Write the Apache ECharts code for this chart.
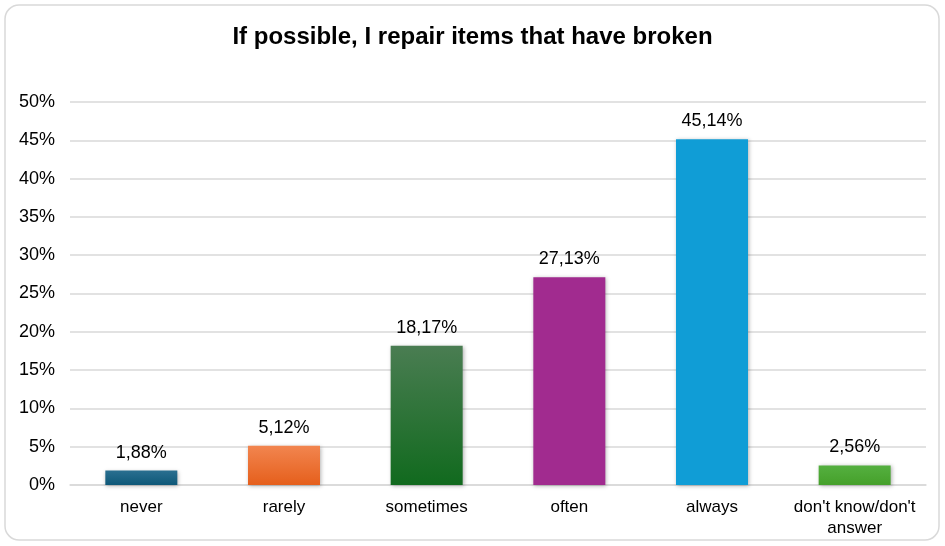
<!DOCTYPE html>
<html><head><meta charset="utf-8">
<script src="https://cdn.jsdelivr.net/npm/echarts@6/dist/echarts.min.js"></script>
<style>html,body{margin:0;padding:0;background:#fff;}#c{width:945px;height:546px;}</style>
</head><body><div id="c"></div>
<script>
const categories = ['never','rarely','sometimes','often','always',"don't know/don't\nanswer"];
const values = [1.88, 5.12, 18.17, 27.13, 45.14, 2.56];
const barColors = [
  ['#2a6f90','#0e5878'],
  ['#f2854f','#e55f1c'],
  ['#4a7d52','#116a1e'],
  ['#a12b8f','#a12b8f'],
  ['#109dd6','#109dd6'],
  ['#55b040','#45a02a']
];
const chart = echarts.init(document.getElementById('c'));
chart.setOption({
  animation:false,
  backgroundColor:'#fff',
  graphic:[{type:'rect',shape:{x:5,y:5,width:934,height:535,r:14},style:{fill:'none',stroke:'#d9d9d9',lineWidth:1.5}}],
  title:{text:'If possible, I repair items that have broken',left:'center',top:20,
    textStyle:{fontFamily:'Liberation Sans',fontSize:24,fontWeight:'bold',color:'#000'}},
  grid:{left:70,right:19,top:102,bottom:61,containLabel:false},
  xAxis:{type:'category',data:categories,
    axisLine:{lineStyle:{color:'#d9d9d9',width:1.5}},axisTick:{show:false},
    axisLabel:{fontFamily:'Liberation Sans',fontSize:17,color:'#000',margin:12,lineHeight:21,interval:0}},
  yAxis:{type:'value',min:0,max:50,interval:5,
    axisLabel:{formatter:'{value}%',fontFamily:'Liberation Sans',fontSize:18,color:'#000',margin:15},
    splitLine:{lineStyle:{color:'#d9d9d9',width:1.5}},axisLine:{show:false},axisTick:{show:false}},
  series:[{type:'bar',barWidth:72,
    data:values.map((v,i)=>({value:v,itemStyle:{color:new echarts.graphic.LinearGradient(0,0,0,1,[{offset:0,color:barColors[i][0]},{offset:1,color:barColors[i][1]}]),
      shadowColor:'rgba(0,0,0,0.3)',shadowBlur:4,shadowOffsetX:1,shadowOffsetY:1}})),
    label:{show:true,position:'top',distance:9,fontFamily:'Liberation Sans',fontSize:18,color:'#000',
      formatter:p=>p.value.toFixed(2).replace('.',',')+'%'}}]
});
</script></body></html>
